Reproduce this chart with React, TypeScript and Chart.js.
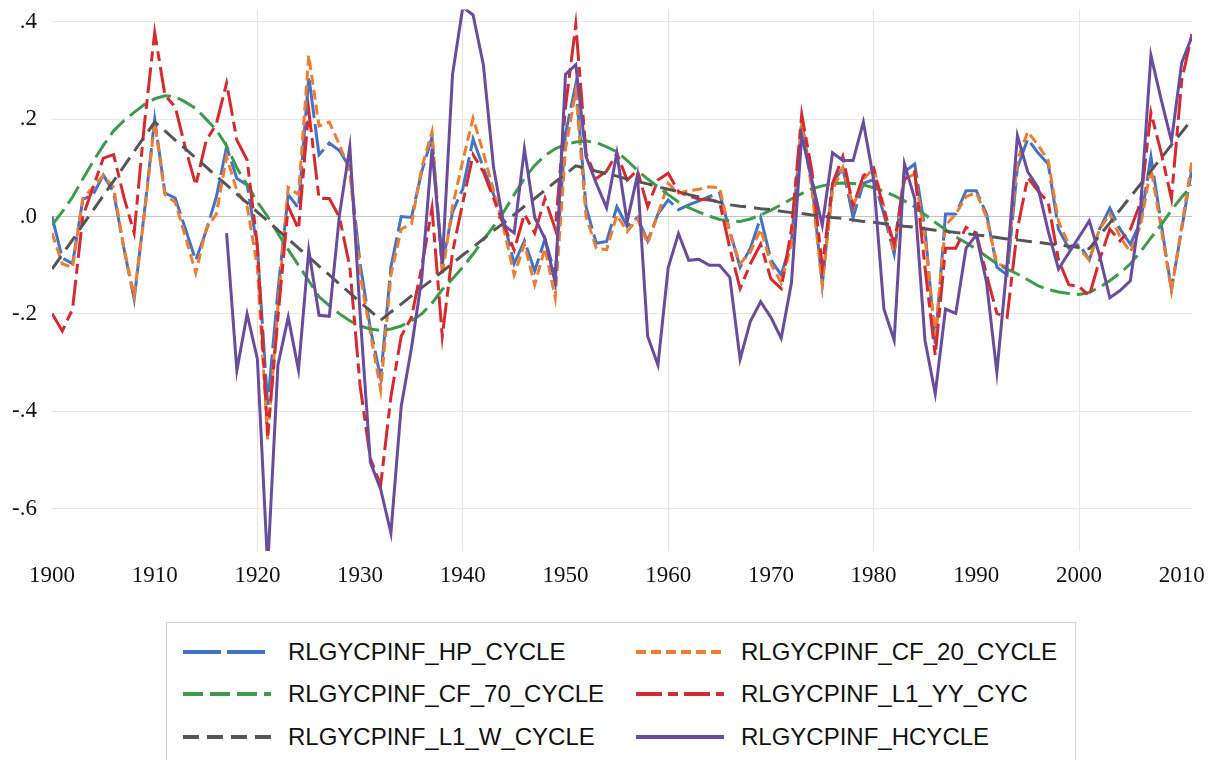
import React, { useEffect, useRef } from 'react';
import { Chart, registerables } from 'chart.js';

Chart.register(...registerables);

const FIRST_YEAR = 1900;
const LAST_YEAR = 2011;
const years: number[] = Array.from({ length: LAST_YEAR - FIRST_YEAR + 1 }, (_, i) => FIRST_YEAR + i);

const xTickYears: number[] = [1900, 1910, 1920, 1930, 1940, 1950, 1960, 1970, 1980, 1990, 2000, 2010];
const xGridYears: number[] = [1920, 1940, 1960, 1980, 2000];
const yTickValues: number[] = [-0.6, -0.4, -0.2, 0, 0.2, 0.4];
const Y_MIN = -0.687;
const Y_MAX = 0.425;

// 1900 .. 2011
const hpCycle: number[] = [
  0.0, -0.085, -0.097, 0.035, 0.045, 0.085, 0.05, -0.065, -0.17, 0.01,
  0.2, 0.048, 0.038, -0.026, -0.09, -0.03, 0.04, 0.143, 0.078, 0.065,
  -0.065, -0.387, -0.152, 0.045, 0.017, 0.288, 0.127, 0.151, 0.135, 0.1,
  -0.097, -0.23, -0.332, -0.104, 0.0, -0.002, 0.092, 0.163, -0.097, 0.009,
  0.057, 0.159, 0.1, 0.045, -0.01, -0.097, -0.05, -0.112, -0.046, -0.12,
  0.17, 0.272, 0.02, -0.055, -0.051, 0.02, -0.02, -0.002, -0.05, 0.005,
  0.034, 0.014, 0.024, 0.032, 0.041, 0.048, -0.03, -0.104, -0.065, -0.002,
  -0.089, -0.12, -0.05, 0.194, 0.068, -0.14, 0.068, 0.1, -0.002, 0.068,
  0.076, 0.005, -0.077, 0.092, 0.108, -0.026, -0.261, 0.005, 0.005, 0.053,
  0.053, 0.005, -0.104, -0.12, 0.1, 0.159, 0.131, 0.108, -0.026, -0.065,
  -0.057, -0.089, -0.026, 0.017, -0.026, -0.057, -0.01, 0.123, -0.015, -0.15,
  -0.025, 0.1,
];

const cf20Cycle: number[] = [
  -0.034, -0.097, -0.105, 0.037, 0.06, 0.084, 0.06, -0.065, -0.163, 0.005,
  0.194, 0.045, 0.029, -0.042, -0.116, -0.026, 0.005, 0.123, 0.053, 0.021,
  -0.104, -0.458, -0.183, 0.06, 0.045, 0.331, 0.186, 0.194, 0.147, 0.092,
  -0.12, -0.238, -0.356, -0.12, -0.026, -0.015, 0.1, 0.174, -0.12, 0.021,
  0.115, 0.202, 0.131, 0.053, -0.026, -0.12, -0.057, -0.14, -0.065, -0.167,
  0.139, 0.257, 0.0, -0.065, -0.068, 0.003, -0.031, -0.005, -0.055, 0.005,
  0.068, 0.048, 0.053, 0.056, 0.061, 0.059, -0.034, -0.097, -0.073, -0.026,
  -0.097, -0.136, -0.057, 0.194, 0.053, -0.14, 0.053, 0.1, 0.021, 0.076,
  0.1, 0.021, -0.073, 0.076, 0.088, -0.042, -0.246, -0.018, 0.005, 0.041,
  0.049, -0.002, -0.097, -0.104, 0.115, 0.174, 0.147, 0.115, -0.01, -0.057,
  -0.065, -0.089, -0.026, 0.005, -0.042, -0.073, -0.018, 0.1, -0.025, -0.152,
  -0.02, 0.115,
];

const cf70Cycle: number[] = [
  -0.018, 0.01, 0.04, 0.077, 0.113, 0.146, 0.176, 0.197, 0.214, 0.23,
  0.242, 0.248, 0.246, 0.235, 0.222, 0.2, 0.178, 0.145, 0.1, 0.065,
  0.03, 0.0, -0.035, -0.068, -0.1, -0.132, -0.165, -0.183, -0.2, -0.214,
  -0.225, -0.231, -0.234, -0.231, -0.225, -0.214, -0.2, -0.178, -0.15, -0.128,
  -0.104, -0.077, -0.048, -0.02, 0.01, 0.045, 0.078, 0.105, 0.125, 0.139,
  0.148, 0.153, 0.155, 0.152, 0.143, 0.133, 0.115, 0.095, 0.077, 0.061,
  0.045, 0.03, 0.018, 0.009, 0.001, -0.006, -0.009, -0.01, -0.005, 0.003,
  0.013, 0.024, 0.036, 0.047, 0.057, 0.063, 0.067, 0.069, 0.068, 0.065,
  0.059, 0.052, 0.043, 0.032, 0.02, 0.004, -0.012, -0.027, -0.042, -0.054,
  -0.067, -0.082, -0.097, -0.108, -0.118, -0.13, -0.142, -0.15, -0.155, -0.158,
  -0.16, -0.156, -0.145, -0.132, -0.116, -0.097, -0.072, -0.044, -0.017, 0.013,
  0.04, 0.064,
];

const l1YyCyc: number[] = [
  -0.199, -0.235, -0.19, 0.0, 0.06, 0.12, 0.127, 0.04, -0.034, 0.19,
  0.378, 0.249, 0.225, 0.14, 0.064, 0.155, 0.19, 0.274, 0.157, 0.116,
  -0.06, -0.45, -0.207, 0.021, -0.026, 0.218, 0.037, 0.037, -0.002, -0.104,
  -0.348, -0.497, -0.552, -0.37, -0.246, -0.207, -0.104, 0.017, -0.246, -0.073,
  0.029, 0.127, 0.092, 0.037, -0.018, -0.069, 0.005, -0.034, 0.037, -0.026,
  0.225, 0.394, 0.13, 0.078, 0.093, 0.13, 0.075, 0.095, 0.02, 0.075,
  0.089, 0.051, 0.042, 0.036, 0.034, 0.03, -0.065, -0.148, -0.097, -0.057,
  -0.128, -0.148, -0.026, 0.21, 0.092, -0.104, 0.068, 0.123, 0.021, 0.084,
  0.1, 0.013, -0.057, 0.076, 0.092, -0.104, -0.285, -0.065, -0.065, -0.022,
  -0.034, -0.12, -0.199, -0.207, -0.026, 0.08, 0.053, 0.029, -0.089, -0.14,
  -0.144, -0.163, -0.089, -0.026, -0.05, -0.026, 0.029, 0.214, 0.131, 0.037,
  0.28, 0.375,
];

const l1WCycle: number[] = [
  -0.108, -0.078, -0.048, -0.017, 0.013, 0.043, 0.073, 0.103, 0.134, 0.164,
  0.194, 0.176, 0.157, 0.139, 0.12, 0.102, 0.083, 0.065, 0.046, 0.028,
  0.009, -0.009, -0.028, -0.046, -0.065, -0.083, -0.102, -0.12, -0.139, -0.157,
  -0.176, -0.194, -0.213, -0.196, -0.18, -0.163, -0.146, -0.13, -0.113, -0.096,
  -0.079, -0.063, -0.046, -0.029, -0.013, 0.004, 0.021, 0.037, 0.054, 0.071,
  0.087, 0.104, 0.099, 0.093, 0.088, 0.083, 0.077, 0.072, 0.067, 0.061,
  0.056, 0.051, 0.045, 0.04, 0.035, 0.029, 0.024, 0.021, 0.019, 0.016,
  0.014, 0.011, 0.008, 0.006, 0.003, 0.001, -0.002, -0.004, -0.007, -0.01,
  -0.012, -0.015, -0.017, -0.02, -0.022, -0.025, -0.028, -0.03, -0.033, -0.035,
  -0.038, -0.04, -0.043, -0.046, -0.048, -0.051, -0.053, -0.056, -0.058, -0.061,
  -0.063, -0.066, -0.039, -0.013, 0.014, 0.04, 0.067, 0.094, 0.12, 0.147,
  0.173, 0.2,
];

const hCycle: (number | null)[] = [
  null, null, null, null, null, null, null, null, null, null,
  null, null, null, null, null, null, null, -0.034, -0.316, -0.2,
  -0.293, -0.72, -0.305, -0.207, -0.315, -0.069, -0.203, -0.205, 0.005, 0.143,
  -0.2, -0.505, -0.56, -0.65, -0.39, -0.27, -0.128, 0.139, -0.097, 0.292,
  0.43, 0.414, 0.312, 0.1, -0.018, -0.034, 0.139, -0.002, -0.046, -0.136,
  0.292, 0.312, 0.123, 0.068, 0.018, 0.13, -0.011, 0.085, -0.246, -0.305,
  -0.105, -0.035, -0.09, -0.088, -0.1, -0.1, -0.125, -0.293, -0.215, -0.175,
  -0.207, -0.25, -0.136, 0.166, 0.074, -0.018, 0.131, 0.115, 0.115, 0.194,
  0.076, -0.19, -0.254, 0.108, 0.037, -0.254, -0.364, -0.19, -0.199, -0.065,
  -0.038, -0.136, -0.32, -0.097, 0.166, 0.092, 0.06, -0.03, -0.108, -0.075,
  -0.042, -0.009, -0.08, -0.167, -0.152, -0.132, 0.02, 0.331, 0.24, 0.155,
  0.316, 0.37,
];

const seriesNames: string[] = [
  'RLGYCPINF_HP_CYCLE',
  'RLGYCPINF_CF_20_CYCLE',
  'RLGYCPINF_CF_70_CYCLE',
  'RLGYCPINF_L1_YY_CYC',
  'RLGYCPINF_L1_W_CYCLE',
  'RLGYCPINF_HCYCLE',
];
const seriesData: (number | null)[][] = [hpCycle, cf20Cycle, cf70Cycle, l1YyCyc, l1WCycle, hCycle];
const seriesColors: string[] = ['#4472C4', '#ED7D31', '#3D9B4B', '#D62A2E', '#555555', '#6A4C9C'];
const seriesDashes: number[][] = [[38, 6], [10, 5], [20, 7], [26, 6, 10, 6], [16, 8], []];
const seriesOrder: number[] = [6, 5, 4, 3, 2, 1];

// legend layout: [column, row]
const legendSlots: number[][] = [[0, 0], [1, 0], [0, 1], [1, 1], [0, 2], [1, 2]];
const legendColX: number[] = [183, 636];
const legendTextX: number[] = [288, 741];
const legendRowY: number[] = [652, 694, 737];

function formatY(v: number): string {
  if (Math.abs(v) < 1e-9) return '.0';
  return v.toFixed(1).replace('0.', '.');
}

function ChartCanvas() {
  const ref = useRef<HTMLCanvasElement | null>(null);
  useEffect(() => {
    document.body.style.margin = '0';
    document.body.style.overflow = 'hidden';
    const canvas = ref.current;
    if (!canvas) return;
    const chart = new Chart(canvas, {
      type: 'line',
      data: {
        datasets: seriesNames.map((name, i) => ({
          label: name,
          data: years.map((y, k) => ({ x: y, y: seriesData[i][k] as any })),
          borderColor: seriesColors[i],
          backgroundColor: seriesColors[i],
          borderWidth: 3,
          borderDash: seriesDashes[i],
          pointRadius: 0,
          pointHoverRadius: 0,
          tension: 0,
          fill: false,
          spanGaps: false,
          order: seriesOrder[i],
        })),
      },
      options: {
        animation: false,
        responsive: false,
        maintainAspectRatio: false,
        layout: { padding: { left: 0, right: 32, top: 9.6, bottom: 0 }, autoPadding: false } as any,
        plugins: {
          legend: { display: false },
          tooltip: { enabled: false },
        },
        scales: {
          x: {
            type: 'linear',
            min: FIRST_YEAR,
            max: LAST_YEAR,
            afterBuildTicks: (axis: any) => {
              axis.ticks = xTickYears.map((v) => ({ value: v }));
            },
            afterFit: (axis: any) => {
              axis.height = 59;
              axis.paddingLeft = 0;
              axis.paddingRight = 0;
            },
            grid: {
              drawTicks: false,
              lineWidth: 1,
              color: (ctx: any) =>
                ctx.tick && xGridYears.includes(ctx.tick.value) ? '#e4e4e4' : 'rgba(0,0,0,0)',
            },
            border: { display: false },
            ticks: {
              padding: 11,
              color: '#111',
              maxRotation: 0,
              autoSkip: false,
              font: { family: "'Liberation Serif', 'Times New Roman', serif", size: 23 },
              callback: (v: any) => String(v),
            },
          },
          y: {
            type: 'linear',
            min: Y_MIN,
            max: Y_MAX,
            afterBuildTicks: (axis: any) => {
              axis.ticks = yTickValues.map((v) => ({ value: v }));
            },
            afterFit: (axis: any) => {
              axis.width = 52;
              axis.paddingTop = 0;
              axis.paddingBottom = 0;
            },
            grid: {
              drawTicks: false,
              lineWidth: 1,
              color: (ctx: any) =>
                ctx.tick && Math.abs(ctx.tick.value) < 1e-9 ? '#c4c4c4' : '#e8e8e8',
            },
            border: { display: false },
            ticks: {
              padding: 15,
              color: '#111',
              autoSkip: false,
              font: { family: "'Liberation Serif', 'Times New Roman', serif", size: 23 },
              callback: (v: any) => formatY(Number(v)),
            },
          },
        },
      },
    });
    return () => chart.destroy();
  }, []);
  return (
    <canvas
      ref={ref}
      width={1224}
      height={610}
      style={{ position: 'absolute', left: 0, top: 0, width: 1224, height: 610 }}
    />
  );
}

function Legend() {
  return (
    <>
      <div
        style={{
          position: 'absolute',
          left: 166,
          top: 622,
          width: 910,
          height: 140,
          borderTop: '1.5px solid #d6d6d6',
          borderLeft: '1.5px solid #d6d6d6',
          borderRight: '1.5px solid #d6d6d6',
          boxSizing: 'border-box',
          background: '#fff',
        }}
      />
      {seriesNames.map((name, i) => {
        const [col, row] = legendSlots[i];
        const cy = legendRowY[row];
        return (
          <React.Fragment key={name}>
            <svg
              width={88}
              height={8}
              style={{ position: 'absolute', left: legendColX[col], top: cy - 4 }}
            >
              <line
                x1={0}
                y1={4}
                x2={88}
                y2={4}
                stroke={seriesColors[i]}
                strokeWidth={4}
                strokeDasharray={seriesDashes[i].length ? seriesDashes[i].join(' ') : undefined}
              />
            </svg>
            <div
              style={{
                position: 'absolute',
                left: legendTextX[col],
                top: cy - 16,
                height: 32,
                lineHeight: '32px',
                fontFamily: "'Liberation Sans', Arial, sans-serif",
                fontSize: 24,
                color: '#111',
                whiteSpace: 'nowrap',
              }}
            >
              {name}
            </div>
          </React.Fragment>
        );
      })}
    </>
  );
}

export default function App() {
  return (
    <div style={{ position: 'relative', width: 1224, height: 760, background: '#fff', overflow: 'hidden' }}>
      <ChartCanvas />
      <Legend />
    </div>
  );
}
